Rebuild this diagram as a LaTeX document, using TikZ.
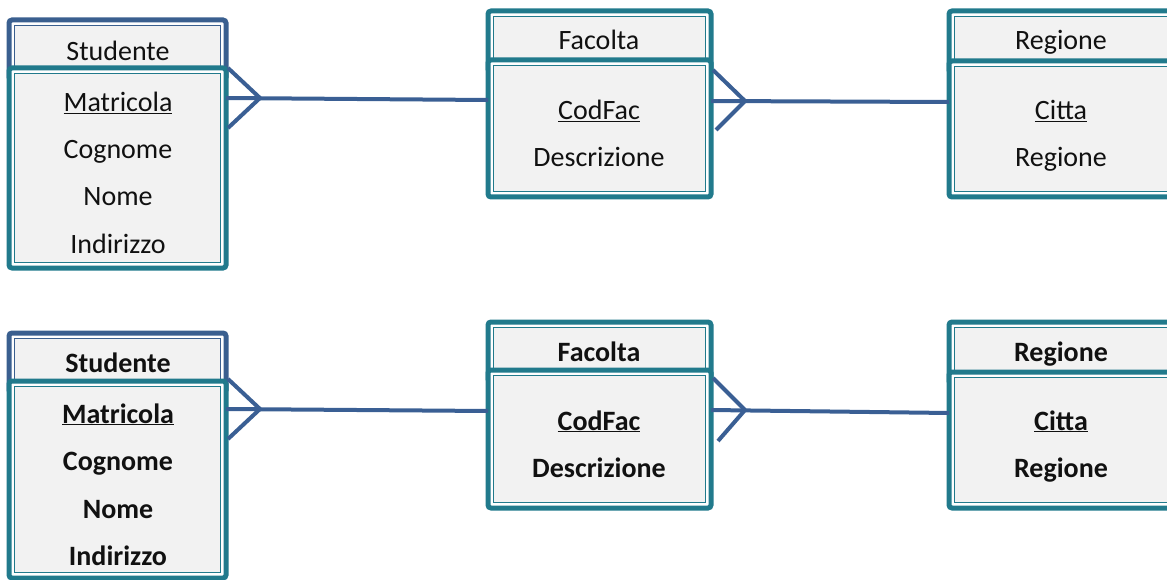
\documentclass[tikz,border=0pt]{standalone}
\usepackage{fontspec}
\setmainfont{Carlito}
\usetikzlibrary{calc,fit}
\definecolor{tealx}{HTML}{217A8C}
\definecolor{bluex}{HTML}{3A5F8F}
\definecolor{connx}{HTML}{3A5F94}
\definecolor{fillg}{HTML}{F2F2F2}
\definecolor{txt}{HTML}{111111}
\newcommand\entbox[6]{%
  \node[fit={(#2,-#3) (#4,-#5)}, entframe, draw=#6] (#1) {};
  \draw[draw=#6, line width=1.3pt, fill=fillg] ($(#1.north west)+(5.5,-5.5)$) rectangle ($(#1.south east)+(-5.5,5.5)$);
}
\begin{document}
\begin{tikzpicture}[x=1pt,y=1pt,
  entframe/.style={line width=5pt, fill=white, rounded corners=3pt, inner sep=0pt, outer sep=0pt},
  cf/.style={draw=connx, line width=4pt, line join=round},
  lbl/.style={text=txt, inner sep=0pt, anchor=base, font=\fontsize{28}{32}\selectfont},
  lblb/.style={text=txt, inner sep=0pt, anchor=base, font=\fontsize{28}{32}\selectfont\bfseries}]
\useasboundingbox (0,0) rectangle (1167,-580);
\clip (0,0) rectangle (1167,-580);
% ---------- top row ----------
\entbox{sH}{9}{20}{226}{80}{bluex}
\entbox{sB}{9}{68}{226}{268}{tealx}
\entbox{fH}{488}{11}{711}{72}{tealx}
\entbox{fB}{488}{60}{711}{197}{tealx}
\entbox{rH}{949}{11}{1180}{73}{tealx}
\entbox{rB}{949}{61}{1180}{197}{tealx}
\node[lbl] (t1) at (118,-61) {Studente};
\node[lbl] (t2) at (118,-112) {\underline{Matricola}};
\node[lbl] (t3) at (118,-159) {Cognome};
\node[lbl] (t4) at (118,-206) {Nome};
\node[lbl] (t5) at (118,-253) {Indirizzo};
\node[lbl] (t6) at (599,-50) {Facolta};
\node[lbl] (t7) at (599,-120) {\underline{CodFac}};
\node[lbl] (t8) at (599,-167) {Descrizione};
\node[lbl] (t9) at (1061,-50) {Regione};
\node[lbl] (t10) at (1061,-120) {\underline{Citta}};
\node[lbl] (t11) at (1061,-167) {Regione};
\draw[cf] ($(sB.north east)+(2,0)$) -- ($(sB.north east)+(34,-30)$) -- ($(sB.north east)+(2,-60)$);
\draw[cf] ($(sB.north east)+(0,-30)$) -- ($(fB.north west)+(0,-40)$);
\draw[cf] ($(fB.north east)+(2,-10)$) -- ($(fB.north east)+(34,-41)$) -- ($(fB.north east)+(5,-70)$);
\draw[cf] ($(fB.north east)+(0,-41)$) -- ($(rB.north west)+(0,-41)$);
% ---------- bottom row ----------
\entbox{sH2}{9}{333}{226}{393}{bluex}
\entbox{sB2}{9}{381}{226}{578}{tealx}
\entbox{fH2}{488}{322}{711}{382}{tealx}
\entbox{fB2}{488}{370}{711}{508}{tealx}
\entbox{rH2}{949}{322}{1180}{384}{tealx}
\entbox{rB2}{949}{372}{1180}{508}{tealx}
\node[lblb] (b1) at (118,-372) {Studente};
\node[lblb] (b2) at (118,-423) {\underline{Matricola}};
\node[lblb] (b3) at (118,-470) {Cognome};
\node[lblb] (b4) at (118,-518) {Nome};
\node[lblb] (b5) at (118,-565) {Indirizzo};
\node[lblb] (b6) at (599,-361) {Facolta};
\node[lblb] (b7) at (599,-430) {\underline{CodFac}};
\node[lblb] (b8) at (599,-477) {Descrizione};
\node[lblb] (b9) at (1061,-361) {Regione};
\node[lblb] (b10) at (1061,-430) {\underline{Citta}};
\node[lblb] (b11) at (1061,-477) {Regione};
\draw[cf] ($(sB2.north east)+(2,2)$) -- ($(sB2.north east)+(34,-28)$) -- ($(sB2.north east)+(2,-58)$);
\draw[cf] ($(sB2.north east)+(0,-28)$) -- ($(fB2.north west)+(0,-41)$);
\draw[cf] ($(fB2.north east)+(2,-8)$) -- ($(fB2.north east)+(34,-40)$) -- ($(fB2.north east)+(7,-71)$);
\draw[cf] ($(fB2.north east)+(0,-40)$) -- ($(rB2.north west)+(0,-41)$);
\end{tikzpicture}
\end{document}
